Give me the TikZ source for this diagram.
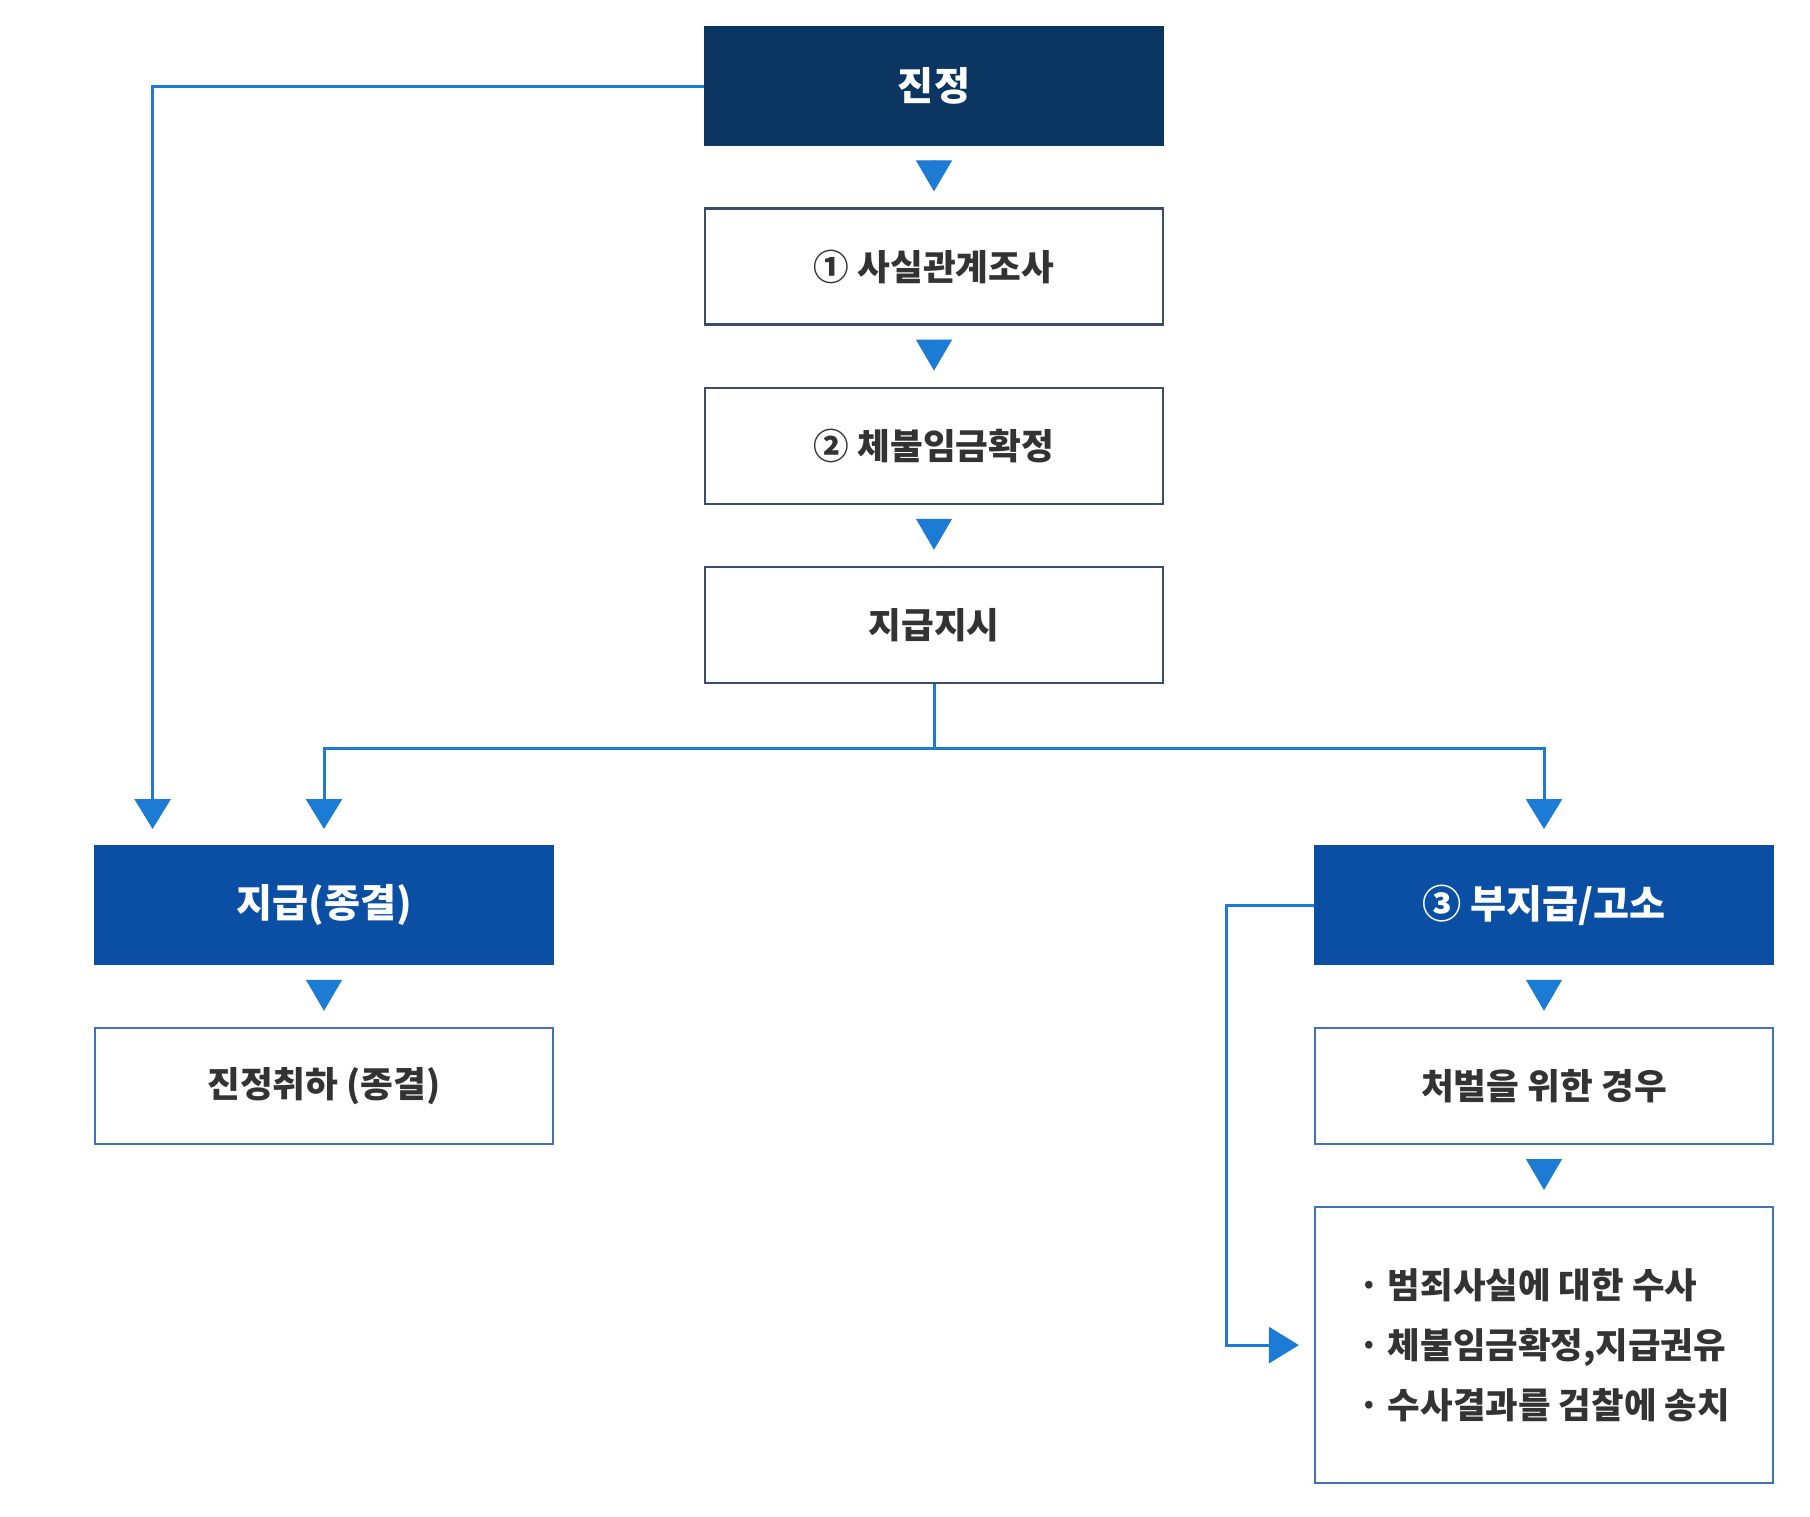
\documentclass[tikz,border=0pt]{standalone}
\usepackage{fontspec}
\setmainfont{Noto Sans CJK KR}
\usepackage{tikz}
\usetikzlibrary{arrows.meta}
\usetikzlibrary{calc,positioning}

\definecolor{navy}{HTML}{0B3661}
\definecolor{midblue}{HTML}{0A4FA4}
\definecolor{linkblue}{HTML}{1C7BD5}
\definecolor{boxline}{HTML}{3B4D6B}
\definecolor{boxblue}{HTML}{4270C0}
\definecolor{textgray}{HTML}{333333}

\begin{document}
\begin{tikzpicture}[x=0.5pt, y=0.5pt, node distance=30.5pt,
    box/.style={draw=boxline, line width=1.1pt, fill=white, text=textgray,
        minimum width=229pt, minimum height=58pt,
        font=\fontsize{17.8pt}{21pt}\selectfont\bfseries},
    headbox/.style={fill=#1, text=white, minimum width=230pt, minimum height=60pt,
        font=\fontsize{19.6pt}{23pt}\selectfont\bfseries},
    link/.style={draw=linkblue, line width=1.5pt,
        -{Triangle[length=15pt,width=18pt]}, shorten >=8pt},
    flowtri/.style={draw=linkblue, line width=0.5pt,
        -{Triangle[length=15.5pt,width=18pt]}, shorten <=7pt, shorten >=8pt}]

    \useasboundingbox (0,0) rectangle (1810,-1516);

    \node[headbox=navy] (jinjeong) at (934,-86) {진정};
    \node[box] (sasil)  [below=of jinjeong] {① 사실관계조사};
    \node[box] (chebul) [below=of sasil] {② 체불임금확정};
    \node[box] (jisi)   [below=of chebul] {지급지시};

    \node[headbox=midblue] (jigeup)   [below=80.5pt of jisi, xshift=-305pt] {지급(종결)};
    \node[box, draw=boxblue] (chwiha) [below=of jigeup] {진정취하 (종결)};

    \node[headbox=midblue] (bujigeup)   [below=80.5pt of jisi, xshift=305pt] {③ 부지급/고소};
    \node[box, draw=boxblue] (cheobeol) [below=of bujigeup] {처벌을 위한 경우};
    \node[box, draw=boxblue, minimum height=138pt, align=left,
        font=\fontsize{17.7pt}{30pt}\selectfont\bfseries] (susa) [below=of cheobeol]
        {· 범죄사실에 대한 수사\\· 체불임금확정,지급권유\\· 수사결과를 검찰에 송치};

    \draw[flowtri] (jinjeong) -- (sasil);
    \draw[flowtri] (sasil) -- (chebul);
    \draw[flowtri] (chebul) -- (jisi);
    \draw[flowtri] (jigeup) -- (chwiha);
    \draw[flowtri] (bujigeup) -- (cheobeol);
    \draw[flowtri] (cheobeol) -- (susa);

    \coordinate (fork) at ($(jisi.south)+(0,-64)$);
    \draw[link] (jinjeong.west) -| ([xshift=29.5pt]jigeup.north west);
    \draw[link] (jisi.south) -- (fork) -| (jigeup.north);
    \draw[link] (fork) -| (bujigeup.north);
    \draw[link, shorten >=7.5pt] (bujigeup.west) -- ++(-87,0) |- (susa.west);

\end{tikzpicture}
\end{document}
